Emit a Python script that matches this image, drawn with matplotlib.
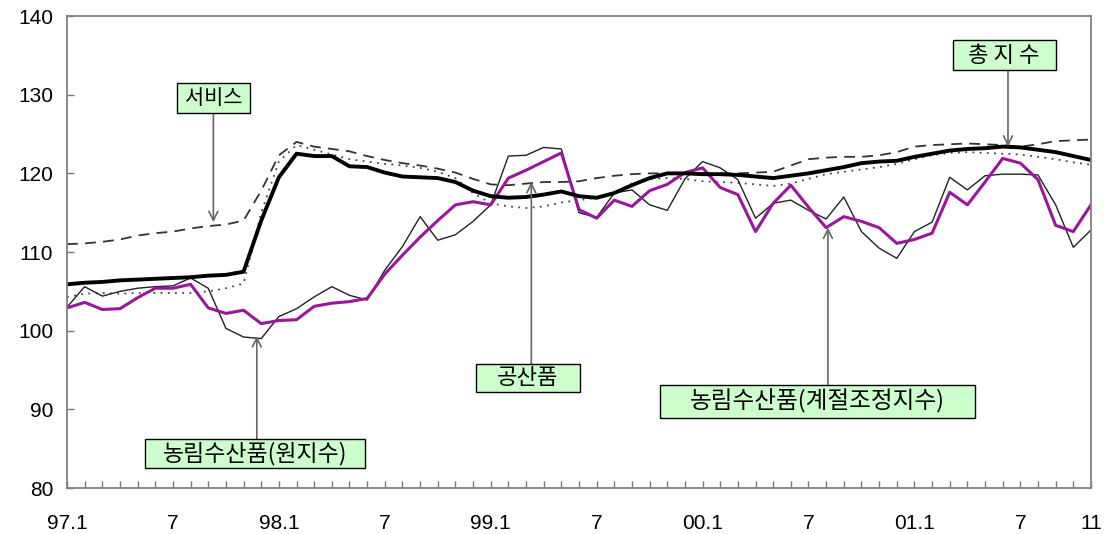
import matplotlib
matplotlib.use("Agg")
import matplotlib.pyplot as plt
from matplotlib.patches import Rectangle

plt.rcParams['font.family'] = ['Liberation Sans', 'Noto Sans CJK KR', 'DejaVu Sans']

# monthly index 97.1 .. 01.11
months = list(range(59))
tick_pos = [0, 6, 12, 18, 24, 30, 36, 42, 48, 54, 58]
tick_labels = ['97.1', '7', '98.1', '7', '99.1', '7', '00.1', '7', '01.1', '7', '11']

total = [105.9, 106.1, 106.2, 106.4, 106.5, 106.6, 106.7, 106.8, 107.0, 107.1,
         107.5, 114.0, 119.5, 122.5, 122.2, 122.2, 120.9, 120.8, 120.1, 119.6,
         119.5, 119.4, 118.9, 117.8, 117.1, 116.9, 117.0, 117.3, 117.7, 117.1,
         116.9, 117.5, 118.5, 119.4, 120.0, 120.0, 119.9, 119.9, 119.8, 119.6,
         119.4, 119.7, 120.0, 120.4, 120.8, 121.3, 121.5, 121.6, 122.1, 122.5,
         122.9, 123.1, 123.2, 123.4, 123.3, 123.0, 122.7, 122.2, 121.7]

services = [111.0, 111.1, 111.3, 111.6, 112.1, 112.4, 112.6, 113.0, 113.3, 113.5,
            114.0, 117.8, 122.3, 124.0, 123.4, 123.1, 122.8, 122.2, 121.7, 121.3,
            121.0, 120.6, 120.1, 119.3, 118.6, 118.5, 118.7, 118.9, 118.9, 119.0,
            119.4, 119.7, 119.9, 120.0, 120.0, 120.0, 120.0, 120.0, 120.0, 120.1,
            120.2, 121.0, 121.8, 122.0, 122.1, 122.1, 122.3, 122.7, 123.4, 123.6,
            123.7, 123.8, 123.7, 123.6, 123.4, 123.7, 124.1, 124.2, 124.3]

industrial = [104.3, 104.7, 104.8, 104.7, 104.8, 104.8, 104.8, 104.8, 105.0, 105.4,
              106.0, 115.0, 121.5, 123.6, 123.0, 122.4, 121.8, 121.5, 121.2, 121.0,
              120.7, 120.2, 119.4, 117.5, 116.2, 115.8, 115.6, 115.8, 116.3, 116.6,
              116.9, 117.6, 118.7, 119.3, 119.4, 119.3, 119.0, 118.9, 118.8, 118.6,
              118.4, 118.7, 119.3, 119.9, 120.2, 120.5, 120.8, 121.2, 121.8, 122.3,
              122.6, 122.7, 122.6, 122.5, 122.4, 122.1, 121.8, 121.4, 121.1]

agri_raw = [103.0, 105.6, 104.4, 105.0, 105.4, 105.6, 105.7, 106.7, 105.4, 100.3,
            99.2, 99.0, 101.8, 102.8, 104.3, 105.6, 104.5, 103.9, 107.7, 110.7,
            114.5, 111.5, 112.2, 113.9, 116.0, 122.2, 122.3, 123.3, 123.1, 115.0,
            114.4, 117.5, 117.9, 116.0, 115.3, 119.3, 121.5, 120.7, 119.2, 114.3,
            116.2, 116.6, 115.3, 114.2, 117.0, 112.6, 110.5, 109.2, 112.6, 113.8,
            119.5, 117.9, 119.7, 119.9, 119.9, 119.8, 116.0, 110.6, 112.8]

agri_sa = [102.9, 103.6, 102.7, 102.8, 104.2, 105.4, 105.4, 105.9, 102.9, 102.2,
           102.6, 100.9, 101.3, 101.4, 103.1, 103.5, 103.7, 104.1, 107.2, 109.6,
           111.9, 114.0, 116.0, 116.4, 116.0, 119.4, 120.4, 121.5, 122.6, 115.4,
           114.3, 116.6, 115.8, 117.8, 118.6, 120.1, 120.7, 118.2, 117.3, 112.6,
           116.2, 118.5, 115.7, 113.1, 114.5, 113.9, 113.1, 111.1, 111.6, 112.4,
           117.6, 116.0, 118.9, 121.9, 121.3, 119.2, 113.4, 112.6, 116.0]

fig = plt.figure(figsize=(11.06, 5.34), dpi=100)
ax = fig.add_axes([0.0606, 0.086, 0.9258, 0.884])

ax.plot(months, services, color='#333333', lw=1.3, ls=(0, (6, 4)))
ax.plot(months, industrial, color='#444444', lw=1.3, ls=(0, (1, 3)))
ax.plot(months, agri_raw, color='#222222', lw=1.0)
ax.plot(months, agri_sa, color='#9a169a', lw=2.2)
ax.plot(months, total, color='black', lw=2.8)

ax.set_xlim(0, 58)
ax.set_ylim(80, 140)
ax.set_yticks([80, 90, 100, 110, 120, 130, 140])
ax.set_xticks(tick_pos)
ax.set_xticklabels(tick_labels)
ax.set_xticks(months, minor=True)
ax.tick_params(axis='y', direction='in', length=5, width=1, color='#777777',
               labelsize=15, pad=10)
ax.tick_params(axis='x', which='major', direction='in', length=5, width=1,
               color='#777777', labelsize=15, pad=19)
ax.tick_params(axis='x', which='minor', direction='in', length=5, width=1,
               color='#777777')
for s in ax.spines.values():
    s.set_color('#808080')
    s.set_linewidth(1.3)

kfont = ['Noto Sans CJK KR', 'DejaVu Sans']
arrow = dict(arrowstyle='->', color='#666666', lw=1.2, shrinkA=0, shrinkB=0,
             mutation_scale=16)

# text, box centre (x, y), box width, box height, arrow tip, font size
notes = [
    ('서비스', (8.29, 129.6), 4.13, 3.81, (8.29, 113.8), 15),
    ('농림수산품(원지수)', (10.65, 84.4), 12.46, 3.68, (10.75, 99.3), 16.5),
    ('공산품', (26.1, 94.0), 5.89, 3.56, (26.3, 118.9), 16),
    ('농림수산품(계절조정지수)', (42.5, 91.0), 17.84, 4.19, (43.1, 113.1), 17),
    ('총 지 수', (53.08, 135.0), 5.83, 3.81, (53.3, 123.4), 16),
]
for txt, (cx, cy), w, h, tip, fs in notes:
    ax.add_patch(Rectangle((cx - w / 2, cy - h / 2), w, h, fc='#ccffcc',
                           ec='black', lw=1.0, zorder=5, clip_on=False))
    ax.text(cx, cy, txt, ha='center', va='center', fontsize=fs,
            family=kfont, zorder=6)
    start_y = cy - h / 2 if tip[1] < cy else cy + h / 2
    ax.annotate('', xy=tip, xytext=(tip[0], start_y), arrowprops=arrow,
                zorder=4)

fig.savefig('out.png', dpi=100)
